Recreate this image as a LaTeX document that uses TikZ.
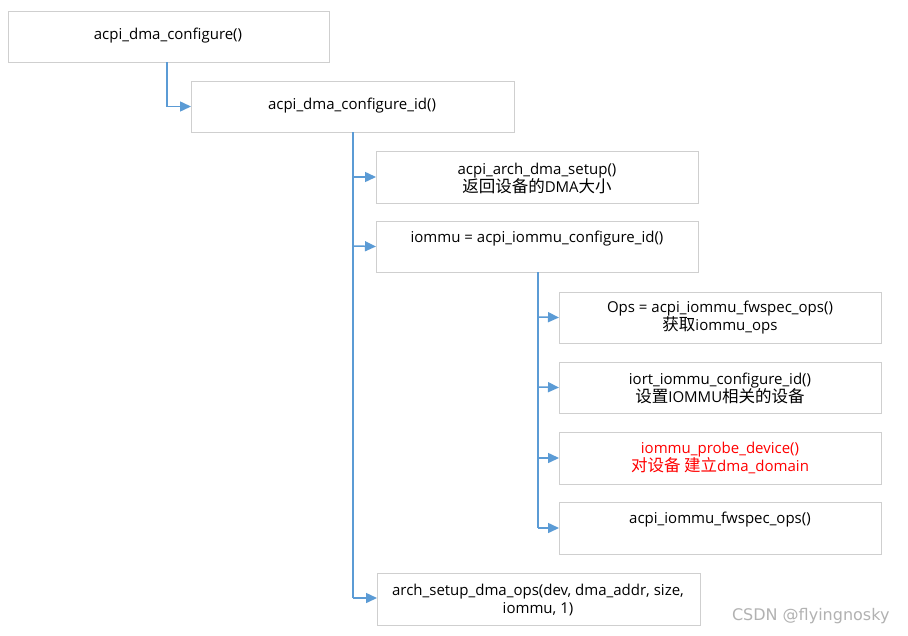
\documentclass[tikz,border=0pt]{standalone}
\usepackage{fontspec}
\setmainfont{Open Sans}
\newfontfamily\cjk[Scale=1.1]{Noto Sans CJK SC}
\usetikzlibrary{arrows.meta}
\definecolor{lineblue}{HTML}{5B9BD5}
\definecolor{boxgray}{HTML}{CFCFCF}
\tikzset{
  x=1pt, y=-1pt,
  fbox/.style={draw=boxgray, line width=1pt, fill=white, inner sep=0pt},
  conn/.style={draw=lineblue, line width=1.5pt, -{Triangle[length=11pt,width=10pt]}},
  trunk/.style={draw=lineblue, line width=1.5pt},
  lbl/.style={font=\fontsize{15}{18}\selectfont, align=center, text=black},
}
\newcommand{\fbx}[6]{% name, x1,y1,x2,y2
  \path[fbox] (#2,#3) rectangle (#4,#5);
  \coordinate (#1-w) at (#2,{(#3+#5)/2});
}
\begin{document}
\begin{tikzpicture}
\useasboundingbox (0,0) rectangle (908,635);
\fill[white] (0,0) rectangle (908,635);
% boxes
\fbx{b1}{8}{11}{329}{62}{}
\node[lbl] (t1) at (168,36) {acpi\_dma\_configure()};
\fbx{b2}{191}{81}{514}{132}{}
\node[lbl] (t2) at (352,106) {acpi\_dma\_configure\_id()};
\fbx{b3}{376}{151}{698}{203}{}
\node[lbl] (t3) at (537,178) {acpi\_arch\_dma\_setup()\\{\cjk 返回设备的}DMA{\cjk 大小}};
\fbx{b4}{376}{221}{698}{272}{}
\node[lbl] (t4) at (537,239) {iommu = acpi\_iommu\_configure\_id()};
\fbx{b5}{559}{292}{881}{343}{}
\node[lbl] (t5) at (720,318) {Ops = acpi\_iommu\_fwspec\_ops()\\{\cjk 获取}iommu\_ops};
\fbx{b6}{559}{362}{881}{413}{}
\node[lbl] (t6) at (720,388) {iort\_iommu\_configure\_id()\\{\cjk 设置}IOMMU{\cjk 相关的设备}};
\fbx{b7}{559}{432}{881}{484}{}
\node[lbl, text=red] (t7) at (720,458) {iommu\_probe\_device()\\{\cjk 对设备 建立}dma\_domain};
\fbx{b8}{559}{502}{881}{554}{}
\node[lbl] (t8) at (720,520) {acpi\_iommu\_fwspec\_ops()};
\fbx{b9}{377}{573}{700}{625}{}
\node[lbl] (t9) at (538,600) {arch\_setup\_dma\_ops(dev, dma\_addr, size,\\iommu, 1)};
% connectors
\coordinate (s1) at (167,62);
\draw[conn] (s1) |- (b2-w);
\coordinate (s2) at (353,132);
\coordinate (e2) at (353,598);
\draw[trunk] (s2) -- (e2);
\draw[conn] (353,177) -- (b3-w);
\draw[conn] (353,246) -- (b4-w);
\draw[conn] (e2) -- (377,598);
\coordinate (s4) at (538,272);
\coordinate (e4) at (538,528);
\draw[trunk] (s4) -- (e4);
\draw[conn] (538,317) -- (b5-w);
\draw[conn] (538,387) -- (b6-w);
\draw[conn] (538,458) -- (b7-w);
\draw[conn] (e4) -- (b8-w);
\node[font=\fontsize{16}{18}\selectfont, text=gray!60, anchor=east] (wm) at (893,616) {\fontspec{DejaVu Sans}CSDN @flyingnosky};
\end{tikzpicture}
\end{document}
